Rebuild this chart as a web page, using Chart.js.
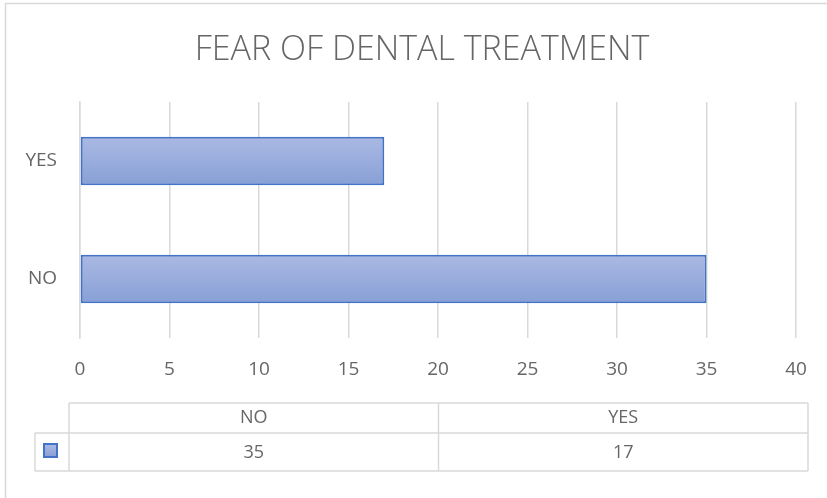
<!DOCTYPE html>
<html>
<head>
<meta charset="utf-8">
<script src="https://cdn.jsdelivr.net/npm/chart.js@4"></script>
<style>
  html, body { margin: 0; padding: 0; background: #fff; }
  #wrap { width: 827px; height: 498px; position: relative; }
</style>
</head>
<body>
<div id="wrap"><canvas id="fearChart"></canvas></div>
<script>
const categories = ['NO', 'YES'];
const counts = [35, 17];
const xTicks = [0, 5, 10, 15, 20, 25, 30, 35, 40];
const chartTitle = 'FEAR OF DENTAL TREATMENT';

const textColor = '#666666';
const lineColor = '#d9d9d9';
const barEdge = '#4472c4';
const fontFamily = "'Open Sans', sans-serif";
const barPct = 0.41;

// vertical gradient for each bar, worked out from the category scale
function barFill(ctx) {
  const chart = ctx.chart;
  const y = chart.scales.y;
  if (!y || ctx.dataIndex === undefined) return '#97abdc';
  const mid = y.getPixelForValue(ctx.dataIndex);
  const half = (y.height / categories.length) * barPct / 2;
  if (!isFinite(mid) || !isFinite(half) || half <= 0) return '#97abdc';
  const g = chart.ctx.createLinearGradient(0, mid - half, 0, mid + half);
  g.addColorStop(0, '#aab9e3');
  g.addColorStop(1, '#88a0d6');
  return g;
}

// frame, title and the data table under the axis
const tablePlugin = {
  id: 'dataTable',
  beforeDraw(chart) {
    const c = chart.ctx;
    c.save();
    c.fillStyle = '#fff';
    c.fillRect(0, 0, chart.width, chart.height);
    c.strokeStyle = lineColor;
    c.lineWidth = 1.5;
    c.beginPath();
    c.moveTo(5.5, chart.height);
    c.lineTo(5.5, 3.5);
    c.lineTo(chart.width, 3.5);
    c.stroke();

    // title centred on the whole frame, not just the plot
    c.fillStyle = textColor;
    c.textAlign = 'center';
    c.textBaseline = 'alphabetic';
    c.font = '300 34px ' + fontFamily;
    c.fillText(chartTitle, 422, 60);
    c.restore();
  },
  afterDraw(chart) {
    const c = chart.ctx;
    const left = 69, right = 808, keyLeft = 35;
    const top = 403, mid = 433, bottom = 471;
    const colW = (right - left) / categories.length;
    c.save();
    c.strokeStyle = lineColor;
    c.lineWidth = 1.5;
    c.beginPath();
    c.moveTo(left, top); c.lineTo(right, top);
    c.moveTo(keyLeft, mid); c.lineTo(right, mid);
    c.moveTo(keyLeft, bottom); c.lineTo(right, bottom);
    c.moveTo(keyLeft, mid); c.lineTo(keyLeft, bottom);
    for (let i = 0; i <= categories.length; i++) {
      const x = left + colW * i;
      c.moveTo(x, top); c.lineTo(x, bottom);
    }
    c.stroke();

    // legend key
    const kg = c.createLinearGradient(0, 444, 0, 457);
    kg.addColorStop(0, '#aab9e3');
    kg.addColorStop(1, '#88a0d6');
    c.fillStyle = kg;
    c.fillRect(44, 444, 13, 13);
    c.strokeStyle = barEdge;
    c.lineWidth = 2;
    c.strokeRect(44, 444, 13, 13);

    c.fillStyle = textColor;
    c.textAlign = 'center';
    c.textBaseline = 'middle';
    c.font = '18px ' + fontFamily;
    categories.forEach((cat, i) => {
      const x = left + colW * (i + 0.5);
      c.fillText(cat, x, (top + mid) / 2);
      c.fillText(String(counts[i]), x, (mid + bottom) / 2 + 1);
    });
    c.restore();
  }
};

new Chart(document.getElementById('fearChart'), {
  type: 'bar',
  data: {
    labels: categories,
    datasets: [{
      label: 'Count',
      data: counts,
      backgroundColor: barFill,
      borderColor: barEdge,
      borderWidth: 2,
      borderSkipped: false,
      categoryPercentage: 1,
      barPercentage: barPct
    }]
  },
  options: {
    indexAxis: 'y',
    responsive: true,
    maintainAspectRatio: false,
    animation: false,
    devicePixelRatio: 1,
    layout: { padding: { left: 0, right: 31, top: 102, bottom: 113 } },
    plugins: {
      legend: { display: false },
      tooltip: { enabled: false },
      title: { display: false }
    },
    scales: {
      x: {
        min: 0,
        max: 40,
        afterBuildTicks(scale) { scale.ticks = xTicks.map(v => ({ value: v })); },
        afterFit(scale) { scale.height = 47; },
        grid: { color: lineColor, lineWidth: 1.5, drawTicks: false },
        border: { display: false },
        ticks: {
          color: textColor,
          padding: 20,
          font: { family: fontFamily, size: 19 }
        }
      },
      y: {
        reverse: true,
        afterFit(scale) { scale.width = 80; },
        grid: { display: false, drawTicks: false },
        border: { display: true, color: lineColor, width: 1.5 },
        ticks: {
          color: textColor,
          padding: 23,
          font: { family: fontFamily, size: 19 }
        }
      }
    }
  },
  plugins: [tablePlugin]
});
</script>
</body>
</html>
